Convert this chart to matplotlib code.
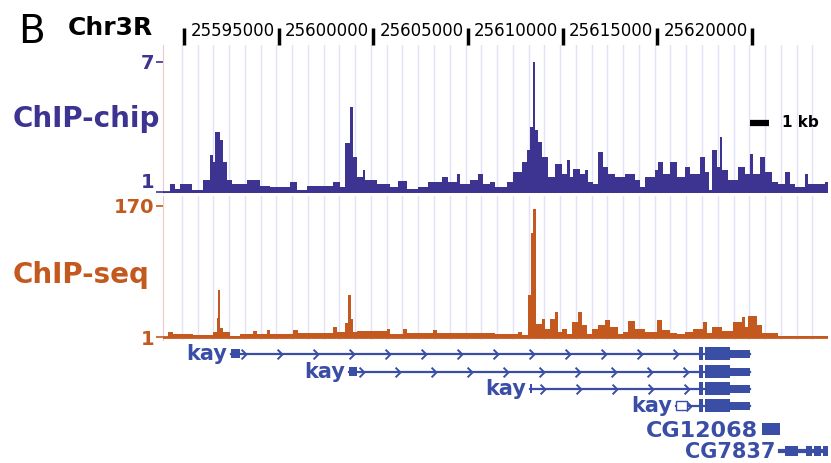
import numpy as np
import matplotlib.pyplot as plt
import matplotlib.transforms as mtransforms
from matplotlib.patches import Rectangle
from matplotlib.path import Path

# region shown, positions below are bp offsets from this
REGION_START = 25590000

# ChIP-chip signal (step edges in bp offset, enrichment ratio per step)
chip_edges = [-1110, -740, -480, -210, 420, 1000, 1370, 1530, 1640, 1900, 2060, 2270,
              2540, 3330, 4020, 4540, 5600, 5970, 6500, 7870, 8240, 8510, 8770, 8930,
              9140, 9460, 9560, 10200, 10880, 11310, 11780, 12360, 12890, 13630, 13950,
              14420, 14580, 15110, 15530, 15800, 16170, 16430, 17060, 17380, 17860, 18120,
              18280, 18440, 18540, 18700, 18910, 19230, 19600, 19970, 20230, 20390, 20550,
              20920, 21190, 21340, 21610, 21870, 22140, 22400, 22770, 23300, 23830, 24090,
              24360, 24880, 25040, 25310, 25680, 26050, 26470, 26730, 27260, 27520, 27740,
              27890, 28160, 28320, 28420, 28740, 29270, 29640, 29900, 30060, 30430, 30690,
              31060, 31380, 31750, 32020, 32280, 32810, 32970, 33860, 34020]
chip_values = [1.0, 1.37, 1.14, 1.37, 1.09, 1.55, 2.7, 2.4, 3.77, 3.4, 2.4, 1.55,
               1.37, 1.55, 1.28, 1.23, 1.46, 1.09, 1.28, 1.46, 1.23, 3.26, 4.92, 2.6,
               1.69, 2.0, 1.55, 1.37, 1.23, 1.5, 1.14, 1.23, 1.46, 1.69, 1.46,
               1.83, 1.37, 1.55, 1.83, 1.37, 1.46, 1.23, 1.46, 1.92, 2.38, 2.94,
               4.0, 7.0, 3.86, 3.3, 2.6, 1.69, 2.29, 1.83, 2.48, 1.69, 2.06,
               1.83, 2.0, 1.46, 1.37, 2.85, 2.15, 1.83, 1.69, 1.83, 1.55, 1.23,
               1.69, 2.0, 2.38, 1.83, 2.38, 1.69, 2.15, 1.83, 2.6, 1.92, 1.09,
               2.94, 2.15, 3.54, 2.0, 1.55, 2.15, 1.83, 2.75, 1.83, 2.6, 1.92,
               1.46, 1.37, 1.92, 1.37, 1.23, 1.83, 1.37, 1.46]

# ChIP-seq read coverage
seq_edges = [-1110, -850, -580, 480, 1530, 1740, 1800, 1900, 2060, 2430, 2960, 3650,
             3860, 4390, 4540, 5760, 6020, 7870, 8080, 8510, 8660, 8820, 8930, 9140,
             10720, 10880, 11570, 11780, 13160, 13370, 16430, 17650, 17860, 18170, 18330,
             18440, 18600, 18910, 19070, 19340, 19600, 19760, 19970, 20230, 20500, 20820,
             21030, 21290, 21560, 21870, 22240, 22510, 22930, 23190, 23460, 23830, 24360,
             24990, 25250, 25680, 26050, 26470, 26890, 27420, 27630, 27890, 28420, 29000,
             29480, 29640, 29800, 30270, 30540, 31380, 34020]
seq_values = [1, 7, 5, 3.5, 7, 25, 61, 12, 7, 2, 5, 9,
              5, 10, 5, 10, 6, 14, 7, 19, 55, 24, 7, 9,
              11, 5, 11, 6, 10, 6, 5, 7, 3.5, 55, 135,
              166, 17.6, 24, 11, 24, 33, 7, 11, 5, 20, 33,
              16, 5, 11, 16, 23, 14, 5, 7, 21.5, 11, 7,
              23, 10, 6, 5, 7, 11, 20, 6, 14, 9, 20,
              27, 14, 28, 16, 6, 2]

ruler_ticks = [0, 5000, 10000, 15000, 20000, 25000, 30000]

# kay transcripts share the 3' end
kay_tx_starts = [2480, 8720, 18280, 25990]
kay_first_exon_ends = [2960, 9140, 18400, 26570]
kay_tx_end = 29900
kay_coding_exons = [(27210, 27440), (27530, 28850)]
kay_utr3 = (28850, 29900)

cg12068_exon = (30540, 31490)
cg7837_span = (31490, 34600)
cg7837_exons = [(31750, 32440), (32860, 33180), (33280, 33650), (33750, 34600)]

W, H = 831, 463
CHIP = '#3d3391'
SEQ = '#c4591f'
GENE = '#3a4ea6'
GUIDE = '#e2e2f8'

plt.rcParams['font.family'] = 'DejaVu Sans'
fig = plt.figure(figsize=(W / 100, H / 100), dpi=100)


def frame(x0, y0, x1, y1):
    return [x0 / W, 1 - y1 / H, (x1 - x0) / W, (y1 - y0) / H]


x_lo, x_hi = REGION_START - 1110, REGION_START + 34025
guides = REGION_START + np.arange(-120, 34025, 833)


def signal_track(rect, edges, values, color, ylim, ticks):
    ax = fig.add_axes(rect)
    for g in guides:
        ax.axvline(g, color=GUIDE, lw=1, zorder=0)
    ax.stairs(values, REGION_START + np.array(edges), baseline=1, fill=True,
              color=color, lw=0, zorder=2)
    ax.axhline(1, color=color, lw=2, zorder=3)
    ax.set_xlim(x_lo, x_hi)
    ax.set_ylim(*ylim)
    ax.set_xticks([])
    ax.set_yticks(ticks)
    ax.set_yticklabels([str(t) for t in ticks], color=color, fontsize=14, fontweight='bold')
    ax.tick_params(axis='y', length=5, width=1.2, color=color, pad=1)
    for s in ['top', 'right', 'bottom']:
        ax.spines[s].set_visible(False)
    ax.spines['left'].set_color('#f3c6c6')
    ax.patch.set_alpha(0)
    return ax


chip_ax = signal_track(frame(163, 45, 828, 193), chip_edges, chip_values, CHIP,
                       (0.954, 7.78), [1, 7])
seq_ax = signal_track(frame(163, 196, 828, 340), seq_edges, seq_values, SEQ,
                      (-2.87, 182.9), [1, 170])
# lift the lower chip label so it clears the 170 below it
chip_ax.get_yticklabels()[0].set_va('bottom')

# 1 kb scale bar
trans = mtransforms.blended_transform_factory(chip_ax.transData, chip_ax.transAxes)
chip_ax.plot([REGION_START + 29900, REGION_START + 30900], [0.473, 0.473], transform=trans,
             color='black', lw=4.5, solid_capstyle='butt')
chip_ax.text(REGION_START + 31600, 0.473, '1 kb', transform=trans, va='center',
             fontsize=11, fontweight='bold')

# track names and header
fig.text(13 / W, 1 - 127 / H, 'ChIP-chip', color=CHIP, fontsize=20, fontweight='bold',
         va='baseline')
fig.text(13 / W, 1 - 283 / H, 'ChIP-seq', color=SEQ, fontsize=20, fontweight='bold',
         va='baseline')
fig.text(18 / W, 1 - 43 / H, 'B', fontsize=28, va='baseline')
fig.text(68 / W, 1 - 35 / H, 'Chr3R', fontsize=18, fontweight='bold', va='baseline')

# base position ruler
rax = fig.add_axes(frame(163, 10, 828, 46))
rax.set_xlim(x_lo, x_hi)
rax.set_ylim(46, 10)
rax.axis('off')
tick_pos = REGION_START + np.array(ruler_ticks)
rax.vlines(tick_pos, 28, 45, color='black', lw=2.5)
for t in tick_pos[1:]:
    rax.annotate(str(t), (t, 31), xytext=(-3, 0), textcoords='offset points',
                 ha='right', va='center', fontsize=12)

# gene models
gax = fig.add_axes(frame(163, 343, 828, 463))
gax.set_xlim(x_lo, x_hi)
gax.set_ylim(463, 343)
gax.axis('off')
rows = [354, 372, 389, 406, 429, 451]
chevron = Path([(-0.6, 1), (0.4, 0), (-0.6, -1)], [Path.MOVETO, Path.LINETO, Path.LINETO])


def block(s, e, y, h, open_box=False):
    fc = 'white' if open_box else GENE
    gax.add_patch(Rectangle((REGION_START + s, y - h / 2), e - s, h, facecolor=fc,
                            edgecolor=GENE, lw=1 if open_box else 0, zorder=3))


def label(text, s, y, size):
    gax.annotate(text, (REGION_START + s, y), xytext=(-3, 0), textcoords='offset points',
                 ha='right', va='baseline', fontsize=size, fontweight='bold', color=GENE)


for i, (s, fe) in enumerate(zip(kay_tx_starts, kay_first_exon_ends)):
    y = rows[i]
    gax.plot([REGION_START + s, REGION_START + kay_tx_end], [y, y], color=GENE, lw=1.6, zorder=2)
    chev = REGION_START + np.arange(s + 700, kay_coding_exons[0][0] - 300, 1900)
    gax.plot(chev, [y] * len(chev), ls='none', marker=chevron, ms=7, mfc='none',
             mec=GENE, mew=1.4, zorder=2)
    block(s, fe, y, 9, open_box=(i == 3))
    for cs, ce in kay_coding_exons:
        block(cs, ce, y, 13)
    block(kay_utr3[0], kay_utr3[1], y, 8)
    label('kay', s, y + 6, 15)

block(cg12068_exon[0], cg12068_exon[1], rows[4], 12)
label('CG12068', cg12068_exon[0], rows[4] + 8, 16)

gax.plot([REGION_START + cg7837_span[0], REGION_START + cg7837_span[1]], [rows[5]] * 2,
         color=GENE, lw=3, zorder=2)
for cs, ce in cg7837_exons:
    block(cs, ce, rows[5], 10)
label('CG7837', cg7837_span[0], rows[5] + 7, 15)

fig.savefig('out.png', dpi=100)
